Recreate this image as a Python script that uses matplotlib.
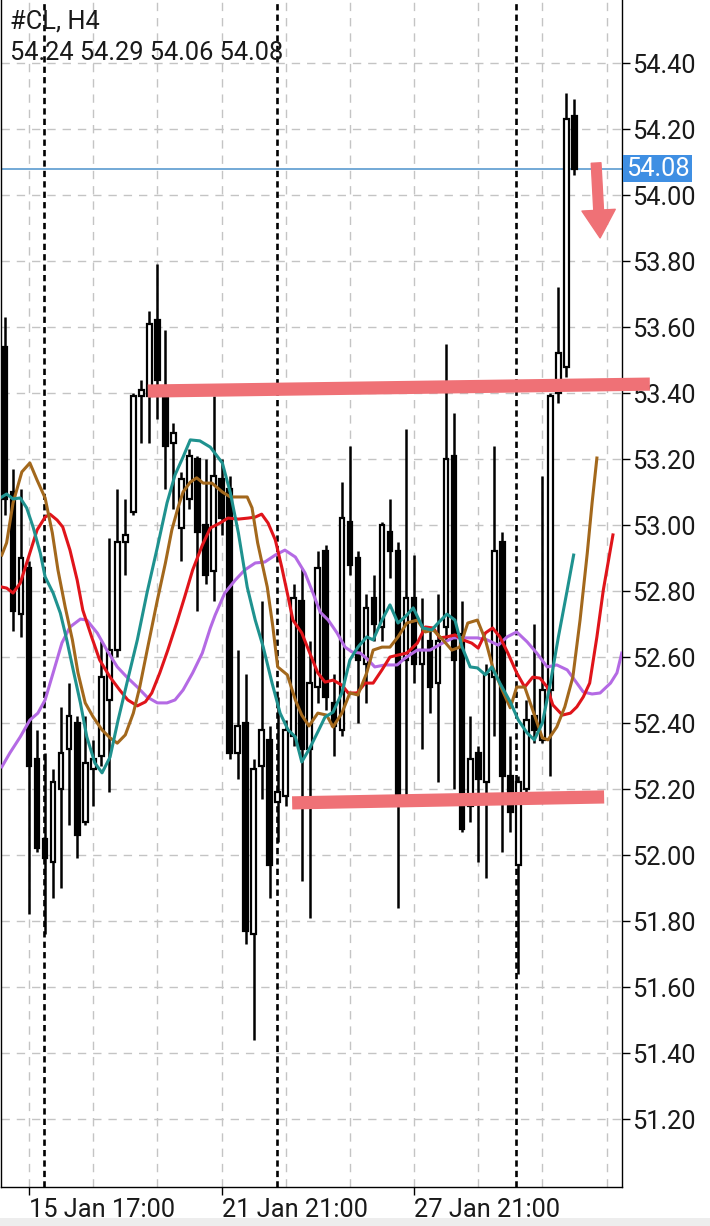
import matplotlib
matplotlib.use('Agg')
import matplotlib.pyplot as plt
import matplotlib.transforms as mtransforms
from matplotlib.patches import FancyArrowPatch, ArrowStyle, Rectangle
import numpy as np

plt.rcParams['font.family'] = ['Roboto', 'DejaVu Sans']
plt.rcParams['lines.scale_dashes'] = False

# ---------------- data ----------------
symbol_title = "#CL, H4"
ohlc_title = "54.24 54.29 54.06 54.08"
last_price = 54.08

opens = [53.54, 53.10, 52.73, 52.87, 52.29, 52.05, 51.98, 52.20, 52.32, 52.40,
         52.10, 52.26, 52.30, 52.47, 52.62, 52.95, 53.04, 53.39, 53.39, 53.62,
         53.39, 53.25, 52.99, 53.08, 53.20, 53.00, 52.86, 53.14, 53.11, 52.31,
         52.40, 51.76, 52.27, 52.35, 52.16, 52.18, 52.36, 52.77, 52.32, 52.51,
         52.92, 52.46, 52.38, 53.01, 52.90, 52.58, 52.78, 52.69, 52.98, 52.92,
         52.59, 52.78, 52.58, 52.65, 52.52, 52.69, 53.21, 52.67, 52.15, 52.31,
         52.22, 52.54, 52.95, 52.24, 51.97, 52.20, 52.42, 52.35, 52.50, 53.40,
         53.48, 54.24]
highs = [53.63, 53.17, 53.11, 52.89, 52.38, 52.31, 52.26, 52.45, 52.52, 52.42,
         52.42, 52.35, 52.65, 52.96, 53.11, 53.08, 53.40, 53.44, 53.65, 53.79,
         53.59, 53.31, 53.16, 53.23, 53.21, 53.20, 53.39, 53.20, 53.15, 52.62,
         52.55, 52.29, 52.77, 52.39, 52.48, 52.41, 52.82, 52.87, 52.65, 52.92,
         52.94, 52.55, 53.13, 53.24, 52.92, 52.79, 52.85, 53.01, 53.08, 52.95,
         53.29, 52.91, 52.78, 52.68, 52.79, 53.55, 53.34, 52.77, 52.42, 52.33,
         52.58, 53.24, 52.98, 52.36, 52.24, 52.47, 52.70, 53.15, 53.40, 53.72,
         54.31, 54.29]
lows = [53.03, 52.68, 52.66, 51.82, 52.01, 51.76, 51.87, 51.90, 52.09, 51.99,
        52.09, 52.15, 52.27, 52.19, 52.60, 52.85, 53.03, 53.25, 53.25, 53.32,
        53.11, 53.05, 52.89, 53.05, 52.74, 52.82, 52.77, 52.97, 52.29, 52.23,
        51.73, 51.44, 52.17, 51.87, 52.04, 52.15, 52.33, 51.92, 51.81, 52.46,
        52.44, 52.30, 52.36, 52.85, 52.40, 52.46, 52.65, 52.65, 52.84, 51.84,
        52.18, 52.52, 52.32, 52.43, 52.22, 52.65, 52.20, 52.07, 52.10, 51.98,
        51.93, 52.36, 52.01, 52.07, 51.64, 52.19, 52.34, 52.34, 52.24, 53.37,
        53.45, 54.06]
closes = [53.08, 52.74, 52.90, 52.27, 52.02, 51.99, 52.22, 52.31, 52.42, 52.06,
          52.28, 52.29, 52.54, 52.62, 52.95, 52.97, 53.39, 53.41, 53.61, 53.44,
          53.24, 53.28, 53.14, 53.21, 52.98, 52.85, 53.15, 53.02, 52.31, 52.39,
          51.77, 52.26, 52.38, 51.97, 52.19, 52.38, 52.78, 52.32, 52.52, 52.87,
          52.48, 52.39, 53.02, 52.88, 52.59, 52.75, 52.70, 53.00, 52.92, 52.18,
          52.78, 52.58, 52.62, 52.51, 52.65, 53.20, 52.59, 52.08, 52.29, 52.23,
          52.55, 52.92, 52.24, 52.13, 52.22, 52.41, 52.38, 52.50, 53.39, 53.52,
          54.23, 54.08]

# time-axis labels (bar index where they sit)
xtick_bars = [3, 27, 51]
xtick_labels = ["15 Jan 17:00", "21 Jan 21:00", "27 Jan 21:00"]
xgrid_bars = [3, 11, 19, 27, 35, 43, 51, 59, 67, 75]
separator_bars = [4.86, 33.9, 63.7]
ytick_values = [51.20, 51.40, 51.60, 51.80, 52.00, 52.20, 52.40, 52.60, 52.80,
                53.00, 53.20, 53.40, 53.60, 53.80, 54.00, 54.20, 54.40]

# moving averages (bar position, price)
teal_x = [-0.4, 0.2, 1.0, 1.9, 2.7, 3.5, 4.4, 5.0, 6.0, 6.9, 7.7, 8.5, 9.4, 10.2, 11.2, 12.1,
          13.1, 14.1, 15.2, 16.5, 17.7, 19.0, 20.2, 21.2, 22.2, 23.1, 24.3, 25.6, 27.1, 28.1,
          29.1, 30.2, 31.2, 32.2, 33.3, 34.3, 35.3, 36.2, 37.0, 38.0, 39.0, 39.9, 40.9, 42.0,
          43.0, 44.0, 45.1, 45.9, 47.0, 48.0, 49.0, 50.1, 50.9, 52.1, 53.2, 54.0, 55.1, 56.1,
          57.0, 58.0, 58.9, 59.9, 60.7, 61.7, 63.0, 64.0, 65.1, 66.0, 67.0, 68.0, 69.0, 70.1, 70.9]
teal_y = [53.085, 53.094, 53.079, 53.082, 53.052, 52.994, 52.915, 52.843, 52.794, 52.733,
          52.652, 52.561, 52.461, 52.358, 52.279, 52.249, 52.297, 52.409, 52.521, 52.652,
          52.794, 52.933, 53.067, 53.152, 53.206, 53.258, 53.255, 53.236, 53.188, 53.097,
          52.976, 52.812, 52.712, 52.630, 52.521, 52.430, 52.379, 52.358, 52.282, 52.324,
          52.373, 52.418, 52.433, 52.491, 52.591, 52.630, 52.661, 52.652, 52.712, 52.758,
          52.703, 52.727, 52.749, 52.688, 52.682, 52.703, 52.730, 52.712, 52.630, 52.570,
          52.567, 52.546, 52.570, 52.521, 52.464, 52.409, 52.370, 52.349, 52.400, 52.521,
          52.661, 52.803, 52.909]

brown_x = [-0.4, 0.2, 1.0, 2.1, 3.1, 4.0, 5.0, 5.9, 6.6, 7.5, 8.4, 9.1, 10.0, 11.0, 12.1,
           13.1, 14.0, 15.0, 16.0, 16.8, 17.8, 19.0, 20.0, 20.8, 21.6, 22.2, 23.1, 23.9, 24.7,
           25.8, 27.1, 28.1, 30.2, 30.8, 31.5, 32.7, 33.4, 34.0, 35.2, 36.2, 37.0, 37.9, 39.0,
           40.1, 40.9, 42.0, 43.0, 44.0, 45.1, 45.9, 47.0, 48.0, 49.0, 50.1, 51.4, 52.4, 53.4,
           54.6, 55.7, 56.7, 57.7, 58.9, 59.9, 60.8, 62.0, 63.0, 63.8, 64.8, 65.8, 67.0, 67.7,
           68.8, 69.8, 70.8, 71.7, 72.6, 73.2, 73.8]
brown_y = [52.909, 52.946, 53.067, 53.161, 53.188, 53.136, 53.082, 52.976, 52.864, 52.752,
           52.652, 52.552, 52.461, 52.418, 52.379, 52.355, 52.339, 52.364, 52.430, 52.509,
           52.630, 52.773, 52.885, 52.985, 53.055, 53.100, 53.130, 53.143, 53.127, 53.127,
           53.100, 53.085, 53.085, 53.052, 52.946, 52.812, 52.691, 52.570, 52.546, 52.470,
           52.424, 52.391, 52.430, 52.424, 52.388, 52.430, 52.491, 52.485, 52.552, 52.621,
           52.630, 52.630, 52.661, 52.703, 52.712, 52.676, 52.682, 52.652, 52.621, 52.630,
           52.703, 52.712, 52.652, 52.570, 52.500, 52.446, 52.509, 52.509, 52.439, 52.355,
           52.349, 52.388, 52.449, 52.539, 52.712, 52.915, 53.067, 53.203]

red_x = [-0.4, 0.2, 1.0, 1.9, 2.9, 4.0, 5.0, 5.6, 6.5, 7.2, 8.1, 9.0, 9.7, 10.8, 11.8, 13.1,
         14.3, 15.3, 16.5, 17.5, 18.3, 19.3, 20.3, 21.4, 22.4, 23.4, 24.6, 25.6, 26.8, 27.8,
         29.1, 30.3, 31.2, 32.0, 32.8, 33.7, 34.5, 35.3, 35.9, 37.0, 38.0, 39.0, 39.9, 40.9,
         42.0, 42.8, 43.9, 44.9, 45.9, 47.0, 48.0, 49.0, 50.1, 51.4, 52.4, 53.4, 54.2, 55.1,
         56.1, 57.1, 58.2, 59.0, 59.9, 60.8, 61.7, 62.7, 63.8, 64.8, 65.8, 66.7, 67.6, 68.3,
         69.5, 70.5, 71.3, 72.1, 72.9, 73.8, 74.6, 75.8]
red_y = [52.812, 52.809, 52.794, 52.824, 52.900, 52.985, 53.024, 53.033, 53.015, 52.994,
         52.924, 52.833, 52.742, 52.661, 52.591, 52.539, 52.500, 52.470, 52.452, 52.464,
         52.491, 52.552, 52.621, 52.703, 52.782, 52.864, 52.939, 52.991, 53.006, 53.021,
         53.018, 53.021, 53.024, 53.033, 53.006, 52.955, 52.873, 52.782, 52.712, 52.673,
         52.612, 52.552, 52.524, 52.530, 52.515, 52.491, 52.491, 52.521, 52.521, 52.561,
         52.600, 52.606, 52.612, 52.642, 52.691, 52.688, 52.658, 52.661, 52.667, 52.652,
         52.642, 52.627, 52.673, 52.688, 52.661, 52.612, 52.552, 52.509, 52.539, 52.536,
         52.509, 52.455, 52.424, 52.430, 52.449, 52.479, 52.521, 52.661, 52.803, 52.970]

purple_x = [-0.4, 0.6, 1.9, 3.1, 4.1, 5.0, 6.0, 7.1, 8.1, 9.4, 10.2, 11.5, 12.7, 14.0, 15.2,
            16.5, 17.7, 19.0, 20.2, 21.2, 22.2, 23.4, 24.6, 25.6, 26.2, 27.4, 28.7, 29.9, 31.2,
            32.4, 33.7, 34.9, 36.2, 37.4, 38.4, 39.3, 40.3, 41.4, 42.4, 43.3, 44.3, 45.3, 46.1,
            47.4, 48.9, 49.9, 51.4, 53.0, 54.6, 55.9, 57.1, 58.9, 60.1, 61.5, 62.6, 63.8, 65.1,
            66.3, 67.6, 68.8, 70.1, 71.3, 72.1, 73.2, 74.2, 75.5, 76.3, 76.9]
purple_y = [52.267, 52.309, 52.358, 52.409, 52.430, 52.470, 52.552, 52.643, 52.691, 52.715,
            52.712, 52.673, 52.621, 52.570, 52.539, 52.509, 52.479, 52.461, 52.461, 52.470,
            52.500, 52.552, 52.612, 52.688, 52.727, 52.794, 52.833, 52.864, 52.885, 52.888,
            52.909, 52.924, 52.903, 52.855, 52.794, 52.736, 52.712, 52.673, 52.630, 52.615,
            52.612, 52.591, 52.570, 52.576, 52.576, 52.597, 52.621, 52.621, 52.643, 52.658,
            52.658, 52.658, 52.652, 52.636, 52.661, 52.676, 52.646, 52.612, 52.570, 52.576,
            52.561, 52.521, 52.494, 52.488, 52.491, 52.521, 52.552, 52.612]

# hand-drawn levels and arrow
resist_x = [17.8, 80.4]
resist_y = [53.406, 53.427]
support_x = [35.8, 74.7]
support_y = [52.158, 52.176]
arrow_start = (73.7, 54.097)
arrow_end = (74.2, 53.870)

# ---------------- figure ----------------
W, H = 710, 1226
fig = plt.figure(figsize=(W / 100, H / 100), dpi=100)
fig.patch.set_facecolor('white')
ax = fig.add_axes([1 / W, (H - 1187) / H, 621 / W, 1187 / H])
ax.set_xlim(-0.5, 76.93)
ax.set_ylim(50.994, 54.591)

grid_col = '#c4c4c4'
for gx in xgrid_bars:
    ax.axvline(gx, color=grid_col, lw=1.0, ls=(0, (6, 5)), zorder=0)
for gy in ytick_values:
    ax.axhline(gy, color=grid_col, lw=1.0, ls=(0, (6, 5)), zorder=0)
for sx in separator_bars:
    ax.axvline(sx, color='black', lw=1.9, ls=(0, (4.5, 3)), zorder=1)

ax.axhline(last_price, color='#5b9bd0', lw=1.2, zorder=1)

# candles
o = np.array(opens); hi = np.array(highs); lo = np.array(lows); c = np.array(closes)
idx = np.arange(len(o))
up = c >= o
ax.vlines(idx, lo, hi, color='black', lw=1.8, zorder=3)
bottom = np.minimum(o, c)
height = np.maximum(np.abs(c - o), 0.006)
ax.bar(idx[up], height[up], bottom=bottom[up], width=0.58, facecolor='white',
       edgecolor='black', linewidth=1.6, zorder=4)
ax.bar(idx[~up], height[~up], bottom=bottom[~up], width=0.58, facecolor='black',
       edgecolor='black', linewidth=1.6, zorder=4)

# moving averages
ma_lw = 2.2
ax.plot(purple_x, purple_y, color='#b46ae4', lw=ma_lw, zorder=5)
ax.plot(red_x, red_y, color='#e0141a', lw=ma_lw, zorder=5)
ax.plot(brown_x, brown_y, color='#a3681c', lw=ma_lw, zorder=5)
ax.plot(teal_x, teal_y, color='#1f928f', lw=ma_lw, zorder=5)

# hand drawn levels
ax.plot(resist_x, resist_y, color='#ef7176', lw=9.5, solid_capstyle='butt',
        zorder=6, clip_on=False)
ax.plot(support_x, support_y, color='#ef7176', lw=9.5, solid_capstyle='butt',
        zorder=6, clip_on=False)
arr = FancyArrowPatch(arrow_start, arrow_end,
                      arrowstyle=ArrowStyle.Simple(head_length=20, head_width=24, tail_width=7),
                      mutation_scale=1, color='#ef7176', shrinkA=0, shrinkB=0,
                      zorder=6, clip_on=False)
ax.add_patch(arr)

# axes styling
for s in ['left', 'bottom', 'right']:
    ax.spines[s].set_color('black')
    ax.spines[s].set_linewidth(1.0)
ax.spines['top'].set_visible(False)

ax.yaxis.tick_right()
ax.set_yticks(ytick_values)
ax.set_yticklabels([f"{v:.2f}" for v in ytick_values])
ax.tick_params(axis='y', direction='out', length=6, width=1, pad=1,
               labelsize=18.3, colors='black', labelcolor='#1a1a1a')
ax.set_xticks(xtick_bars)
ax.set_xticklabels(xtick_labels)
ax.tick_params(axis='x', direction='out', length=6, width=1, pad=2,
               labelsize=18.3, labelcolor='#1a1a1a')
for lab in ax.get_xticklabels():
    lab.set_horizontalalignment('left')

# current price label
trans = mtransforms.blended_transform_factory(ax.transAxes, ax.transData)
box_h = 13.5 / 330
ax.add_patch(Rectangle((1.0015, last_price - box_h), 69 / 621, 2 * box_h,
                       transform=trans, facecolor='#3f8fe3', edgecolor='none',
                       clip_on=False, zorder=7))
ax.text(1.0015 + 34.5 / 621, last_price, f"{last_price:.2f}", transform=trans,
        ha='center', va='center', color='white', fontsize=18.3, zorder=8, clip_on=False)

# title
fig.text(10 / W, 1 - 22 / H, symbol_title, ha='left', va='center', fontsize=18.3, color='#1a1a1a')
fig.text(10 / W, 1 - 53 / H, ohlc_title, ha='left', va='center', fontsize=18.3, color='#1a1a1a')

# bottom grey band
fig.patches.append(Rectangle((0, 0), 1, 8 / H, transform=fig.transFigure,
                             facecolor='#ededed', edgecolor='none'))

fig.savefig('out.png', dpi=100)
